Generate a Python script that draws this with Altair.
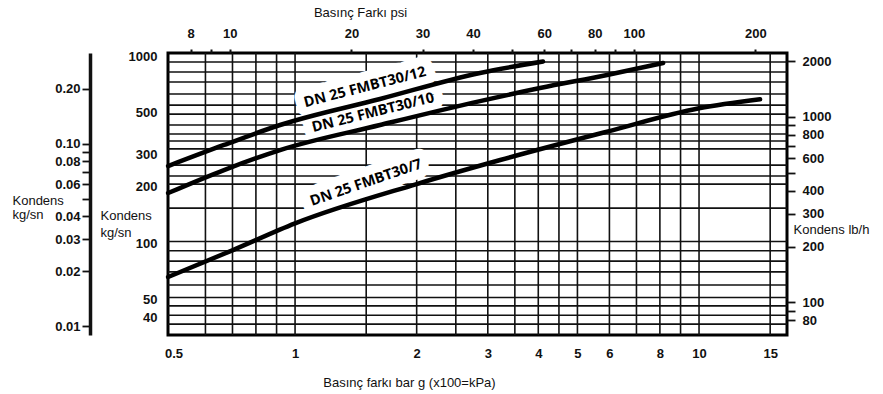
import altair as alt
import pandas as pd

BAR_TO_PSI = 14.5038

# Pressure difference (bar g) and the psi scale printed along the top
bar_ticks = [0.5, 1, 2, 3, 4, 5, 6, 8, 10, 15]
psi_ticks = [8, 9, 10, 20, 30, 40, 50, 60, 70, 80, 90, 100, 200]
psi_labels = [8, 10, 20, 30, 40, 60, 80, 100, 200]

# Condensate capacity scales
kgh_labels = [1000, 500, 300, 200, 100, 50, 40]
kgs_ticks = [0.2, 0.1, 0.09, 0.08, 0.07, 0.06, 0.05, 0.04, 0.03, 0.02, 0.01]
kgs_labels = [0.2, 0.1, 0.08, 0.06, 0.04, 0.03, 0.02, 0.01]
lbh_ticks = [2000, 1000, 900, 800, 700, 600, 500, 400, 300, 200, 100, 90, 80]
lbh_labels = [2000, 1000, 800, 600, 400, 300, 200, 100, 80]

# Chart paper rulings
grid_bar = [0.6, 0.7, 0.8, 0.9, 1, 1.5, 2, 2.5, 3, 3.5, 4, 4.5, 5, 6, 7, 8, 9, 10, 15]
grid_kgh = [937, 828, 731, 631, 550, 492, 430, 385, 353, 320, 262, 229, 207,
            154, 102, 91, 80, 70, 59.5, 51, 46, 41, 36.7]

# Capacity curves: pressure difference (bar) -> condensate (kg/h)
fmbt12_bar = [0.485, 0.667, 0.918, 1.623, 2.87, 4.11]
fmbt12_kgh = [259, 336, 430, 593, 818, 942]
fmbt10_bar = [0.485, 0.667, 0.918, 1.623, 2.87, 4.04, 5.92, 8.15]
fmbt10_kgh = [185.5, 246.5, 315.6, 430, 578, 679, 798, 925]
fmbt7_bar = [0.485, 0.702, 1.0, 2.0, 3.22, 5.92, 10.0, 14.16]
fmbt7_kgh = [65.7, 91.7, 127.5, 207.3, 279, 396, 528.5, 590.6]

curve_names = ["DN 25 FMBT30/12", "DN 25 FMBT30/10", "DN 25 FMBT30/7"]
label_bar = [1.49, 1.56, 1.50]
label_kgh = [683, 499, 210]
label_angle = [345.5, 346, 341]

# Scale extents
BAR_DOMAIN = [0.4847, 16.51]
PSI_DOMAIN = [BAR_DOMAIN[0] * BAR_TO_PSI, BAR_DOMAIN[1] * BAR_TO_PSI]
KGH_DOMAIN = [32.1, 1047]
KGS_DOMAIN = [0.00893, 0.315]
LBH_DOMAIN = [66.8, 2213]

NUM_FONT = "Liberation Sans"
INK = "#111111"

rows = []
for name, xs, ys in zip(curve_names,
                        [fmbt12_bar, fmbt10_bar, fmbt7_bar],
                        [fmbt12_kgh, fmbt10_kgh, fmbt7_kgh]):
    for i, (b, k) in enumerate(zip(xs, ys)):
        rows.append({"series": name, "i": i, "bar": b, "kgh": k})
curves_df = pd.DataFrame(rows)
labels_df = pd.DataFrame({"text": curve_names, "bar": label_bar,
                          "kgh": label_kgh, "angle": label_angle})


def x_bar(axis=None):
    return alt.X("bar:Q", scale=alt.Scale(type="log", domain=BAR_DOMAIN, nice=False),
                 axis=axis)


def y_kgh(axis=None):
    return alt.Y("kgh:Q", scale=alt.Scale(type="log", domain=KGH_DOMAIN, nice=False),
                 axis=axis)


label_style = dict(labelFont=NUM_FONT, labelFontSize=13, labelFontWeight="bold",
                   labelColor=INK, labelOverlap=False, labelFlush=False,
                   titleFont=NUM_FONT, titleFontSize=13, titleFontWeight="normal",
                   titleColor=INK, grid=False)

bottom_axis = alt.Axis(orient="bottom", values=bar_ticks, format="~g", ticks=False,
                       domain=False, labelPadding=12,
                       title="Basınç farkı bar g (x100=kPa)", titleX=241, titleY=47,
                       titleAlign="center", titleBaseline="middle", titleAngle=0,
                       **label_style)
left_axis = alt.Axis(orient="left", values=kgh_labels, format="d", ticks=False,
                     domain=False, labelPadding=11,
                     title=["Kondens", "kg/sn"], titleAngle=0, titleAlign="left",
                     titleBaseline="top", titleX=-68, titleY=156, titleLineHeight=17,
                     **label_style)

v_grid = alt.Chart(pd.DataFrame({"bar": grid_bar})).mark_rule(
    color=INK, strokeWidth=1.6
).encode(x=x_bar(bottom_axis))

h_grid = alt.Chart(pd.DataFrame({"kgh": grid_kgh})).mark_rule(
    color=INK, strokeWidth=1.6
).encode(y=y_kgh(left_axis))

text_style = dict(font="Open Sans", fontWeight="bold", fontSize=14.5)
enc_text = dict(
    x=x_bar(),
    y=y_kgh(),
    text="text:N",
    angle=alt.Angle("angle:Q", scale=None),
)
# white clearing behind each curve label so the rulings stop short of the text
halo = alt.Chart(labels_df).mark_text(
    color="white", stroke="white", strokeWidth=19, strokeJoin="round", **text_style
).encode(**enc_text)

curves = alt.Chart(curves_df).mark_line(
    color="black", strokeWidth=4.5, strokeCap="round", interpolate="monotone"
).encode(
    x=x_bar(),
    y=y_kgh(),
    detail="series:N",
    order="i:Q",
)

curve_text = alt.Chart(labels_df).mark_text(color="black", **text_style).encode(**enc_text)

# psi scale on top
psi_layer = alt.Chart(pd.DataFrame({"psi": psi_ticks})).mark_point(opacity=0).encode(
    x=alt.X("psi:Q", scale=alt.Scale(type="log", domain=PSI_DOMAIN, nice=False),
            axis=alt.Axis(orient="top", values=psi_ticks, format="d",
                          labelExpr="indexof(%s, datum.value) >= 0 ? datum.label : ''"
                          % psi_labels,
                          tickSize=4, tickWidth=2, tickColor=INK, domain=False,
                          labelPadding=9,
                          title="Basınç Farkı psi", titleX=192, titleY=-41,
                          titleAlign="center", titleBaseline="middle", titleAngle=0,
                          **label_style))
)

# kg/s scale, drawn away from the plot on the far left
kgs_layer = alt.Chart(pd.DataFrame({"kgs": kgs_ticks})).mark_point(opacity=0).encode(
    y=alt.Y("kgs:Q", scale=alt.Scale(type="log", domain=KGS_DOMAIN, nice=False),
            axis=alt.Axis(orient="left", offset=78, values=kgs_ticks, format=".2f",
                          labelExpr="indexof(%s, datum.value) >= 0 ? datum.label : ''"
                          % kgs_labels,
                          tickSize=8, tickWidth=1.8, tickColor=INK,
                          domain=True, domainWidth=3.5, domainColor=INK,
                          labelPadding=2,
                          title=["Kondens", "kg/sn"], titleAngle=0, titleAlign="left",
                          titleBaseline="top", titleX=-78, titleY=141,
                          titleLineHeight=14,
                          **label_style))
)

# lb/h scale on the right
lbh_layer = alt.Chart(pd.DataFrame({"lbh": lbh_ticks})).mark_point(opacity=0).encode(
    y=alt.Y("lbh:Q", scale=alt.Scale(type="log", domain=LBH_DOMAIN, nice=False),
            axis=alt.Axis(orient="right", values=lbh_ticks, format="d",
                          labelExpr="indexof(%s, datum.value) >= 0 ? datum.label : ''"
                          % lbh_labels,
                          tickSize=8, tickWidth=1.8, tickColor=INK, domain=False,
                          labelPadding=7,
                          title="Kondens lb/h", titleAngle=0, titleAlign="left",
                          titleBaseline="middle", titleX=6, titleY=176,
                          **label_style))
)

chart = alt.layer(
    v_grid, h_grid, halo, curves, curve_text, psi_layer, kgs_layer, lbh_layer
).resolve_scale(
    x="independent", y="independent"
).properties(
    width=619,
    height=282,
    padding={"left": 168, "top": 53, "right": 96, "bottom": 59},
    autosize=alt.AutoSizeParams(type="none"),
    background="white",
).configure_view(stroke="black", strokeWidth=3)

chart.save("out.html", embed_options={"renderer": "svg", "actions": False})
